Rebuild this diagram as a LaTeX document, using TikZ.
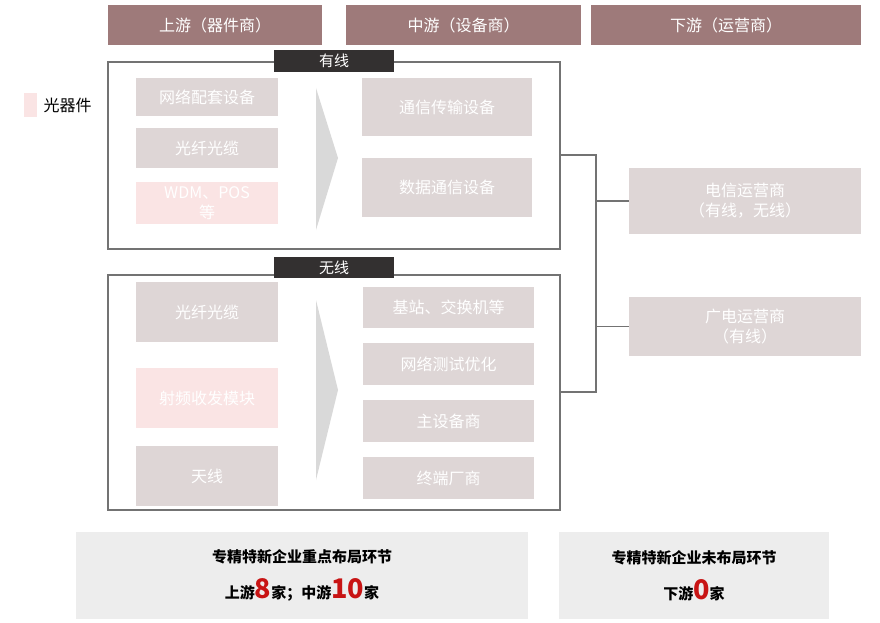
\documentclass[tikz,border=0pt]{standalone}
\usepackage{fontspec}
\setmainfont{Noto Sans CJK SC}
\usetikzlibrary{positioning,calc}
\definecolor{head}{RGB}{158,122,122}
\definecolor{itemgray}{RGB}{222,214,214}
\definecolor{itempink}{RGB}{250,228,228}
\definecolor{tagdark}{RGB}{51,48,48}
\definecolor{hilite}{RGB}{200,20,20}
\begin{document}
\begin{tikzpicture}[
  x=1pt, y=-1pt,
  header/.style = {fill=head, text=white, font=\fontsize{16}{19}\selectfont},
  item/.style   = {fill=itemgray, text=white, font=\fontsize{16}{20}\selectfont, align=center},
  pinkitem/.style = {item, fill=itempink},
  frame/.style  = {draw=black!55, line width=1.2pt},
  tag/.style    = {fill=tagdark, text=white, font=\fontsize{15}{18}\selectfont},
  link/.style   = {draw=black!55, line width=1.2pt},
  summary/.style = {fill=black!7, align=center, font=\bfseries\fontsize{15}{36}\selectfont},
  big/.style = {}
]
\useasboundingbox (0,0) rectangle (880,623);
\newcommand{\bx}[5]{\node[#1, minimum width=#4-#2, minimum height=#5-#3, inner sep=0pt] (n#2#3) at ({(#2+#4)/2},{(#3+#5)/2})}
\newcommand{\bignum}[1]{{\color{hilite}\fontsize{27}{30}\selectfont #1}}

% Headers
\bx{header}{108}{5}{322}{45} {上游（器件商）};
\bx{header}{346}{5}{581}{45} {中游（设备商）};
\bx{header}{591}{5}{861}{45} {下游（运营商）};

% Legend
\fill[itempink] (24,93) rectangle (37,117);
\node[anchor=west, font=\fontsize{16}{19}\selectfont] (legend) at (40,105) {光器件};

% Wired frame
\draw[frame] (108,62) rectangle (560,249);
\coordinate (wired) at (560,155);
\bx{tag}{274}{50}{394}{72} {有线};
\bx{item}{136}{78}{278}{116} {网络配套设备};
\bx{item}{136}{128}{278}{168} {光纤光缆};
\bx{pinkitem}{136}{182}{278}{224} {WDM、POS\\等};
\fill[black!15] (316,88) -- (338,158) -- (316,230) -- cycle;
\bx{item}{362}{78}{532}{136} {通信传输设备};
\bx{item}{362}{158}{532}{217} {数据通信设备};

% Wireless frame
\draw[frame] (108,275) rectangle (560,510);
\coordinate (wireless) at (560,392);
\bx{tag}{274}{257}{394}{278} {无线};
\bx{item}{136}{282}{278}{342} {光纤光缆};
\bx{pinkitem}{136}{368}{278}{428} {射频收发模块};
\bx{item}{136}{446}{278}{506} {天线};
\fill[black!15] (316,300) -- (338,390) -- (316,480) -- cycle;
\bx{item}{363}{287}{534}{328} {基站、交换机等};
\bx{item}{363}{343}{534}{385} {网络测试优化};
\bx{item}{363}{400}{534}{442} {主设备商};
\bx{item}{363}{457}{534}{499} {终端厂商};

% Operators
\bx{item}{629}{168}{861}{234} {电信运营商\\（有线，无线）};
\bx{item}{629}{297}{861}{356} {广电运营商\\（有线）};

% Connections
\coordinate (bus) at (596,155);
\draw[link] (wired) -- (bus) -- (bus |- wireless) -- (wireless);
\draw[link] (bus |- n629168) -- (n629168.west);
\draw[link] (bus |- n629297) -- (n629297.west);

% Summary
\bx{summary}{76}{532}{528}{619} {专精特新企业重点布局环节\\上游\bignum{8}家；中游\bignum{10}家};
\bx{summary}{559}{532}{829}{619} {专精特新企业未布局环节\\下游\bignum{0}家};
\end{tikzpicture}
\end{document}
